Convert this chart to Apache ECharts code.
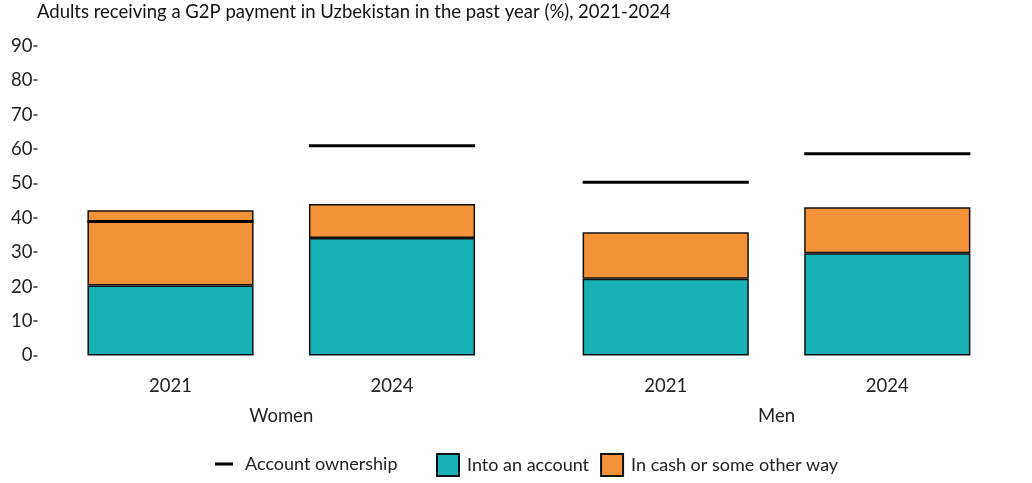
<!DOCTYPE html>
<html><head><meta charset="utf-8">
<script src="https://cdn.jsdelivr.net/npm/echarts@6/dist/echarts.min.js"></script>
<style>html,body{margin:0;padding:0;background:#fff}#c{width:1032px;height:483px}</style>
</head><body><div id="c"></div>
<script>
const titleText = 'Adults receiving a G2P payment in Uzbekistan in the past year (%), 2021-2024';
const years = ['2021', '2024'];
const panels = ['Women', 'Men'];
const yTicks = [0, 10, 20, 30, 40, 50, 60, 70, 80, 90];
const womenInto = [20.3, 34.1];
const womenCash = [21.9, 9.9];
const womenOwn = [38.9, 60.9];
const menInto = [22.3, 29.7];
const menCash = [13.5, 13.4];
const menOwn = [50.3, 58.6];

const TEAL = '#17B1B6', ORANGE = '#F39237';
const FONT = 'Lato';
const FS = 18.5;
const chart = echarts.init(document.getElementById('c'));

function ownSeries(idx, vals) {
  return {
    name: 'Account ownership', type: 'custom', xAxisIndex: idx, yAxisIndex: idx, z: 10,
    itemStyle: { color: '#000' },
    encode: { x: 0, y: 1 },
    data: vals.map((v, i) => [i, v]),
    renderItem: function (params, api) {
      const p = api.coord([api.value(0), api.value(1)]);
      const w = api.size([1, 0])[0] * 0.75;
      return { type: 'line', shape: { x1: p[0] - w / 2, y1: p[1], x2: p[0] + w / 2, y2: p[1] },
        style: { stroke: '#000', lineWidth: 3 } };
    }
  };
}
function barSeries(name, idx, vals, color) {
  return { name: name, type: 'bar', stack: 's' + idx, xAxisIndex: idx, yAxisIndex: idx,
    barWidth: '75%', data: vals,
    itemStyle: { color: color, borderColor: '#111', borderWidth: 1.5 } };
}
function xAxis(idx) {
  return { type: 'category', gridIndex: idx, data: years,
    axisLine: { show: false }, axisTick: { show: false },
    axisLabel: { margin: 21, fontFamily: FONT, fontSize: FS, color: '#222' },
    name: panels[idx], nameLocation: 'middle', nameGap: 51,
    nameTextStyle: { fontFamily: FONT, fontSize: FS, color: '#222' } };
}
function yAxis(idx) {
  return { type: 'value', gridIndex: idx, min: yTicks[0], max: yTicks[yTicks.length - 1], interval: 10,
    offset: idx === 0 ? 22.25 : 0,
    splitLine: { show: false }, axisLine: { show: false },
    axisTick: { show: idx === 0, length: 4, lineStyle: { color: '#333', width: 1.5 } },
    axisLabel: { show: idx === 0, margin: 5, fontFamily: FONT, fontSize: FS, color: '#222' } };
}

chart.setOption({
  animation: false,
  title: { text: titleText, left: 37, top: 3, padding: 0, textStyle: { fontFamily: FONT, fontSize: FS, fontWeight: 'normal', color: '#111' } },
  grid: [
    { left: 59.75, width: 443, top: 45.7, bottom: 127.5 },
    { left: 554.9, width: 443.2, top: 45.7, bottom: 127.5 }
  ],
  xAxis: [xAxis(0), xAxis(1)],
  yAxis: [yAxis(0), yAxis(1)],
  legend: [
    { left: 215, top: 455, padding: 0, data: [{ name: 'Account ownership', icon: 'rect' }],
      itemWidth: 18, itemHeight: 3, textStyle: { fontFamily: FONT, fontSize: 18, color: '#222', padding: [0, 0, 0, 7] } },
    { left: 436, top: 453, padding: 0, data: [{ name: 'Into an account', icon: 'rect' }, { name: 'In cash or some other way', icon: 'rect' }],
      itemWidth: 22, itemHeight: 22, itemGap: 11,
      textStyle: { fontFamily: FONT, fontSize: 18, color: '#222', padding: [0, 0, 0, 3] } }
  ],
  series: [
    barSeries('Into an account', 0, womenInto, TEAL),
    barSeries('In cash or some other way', 0, womenCash, ORANGE),
    ownSeries(0, womenOwn),
    barSeries('Into an account', 1, menInto, TEAL),
    barSeries('In cash or some other way', 1, menCash, ORANGE),
    ownSeries(1, menOwn)
  ]
});
</script></body></html>
